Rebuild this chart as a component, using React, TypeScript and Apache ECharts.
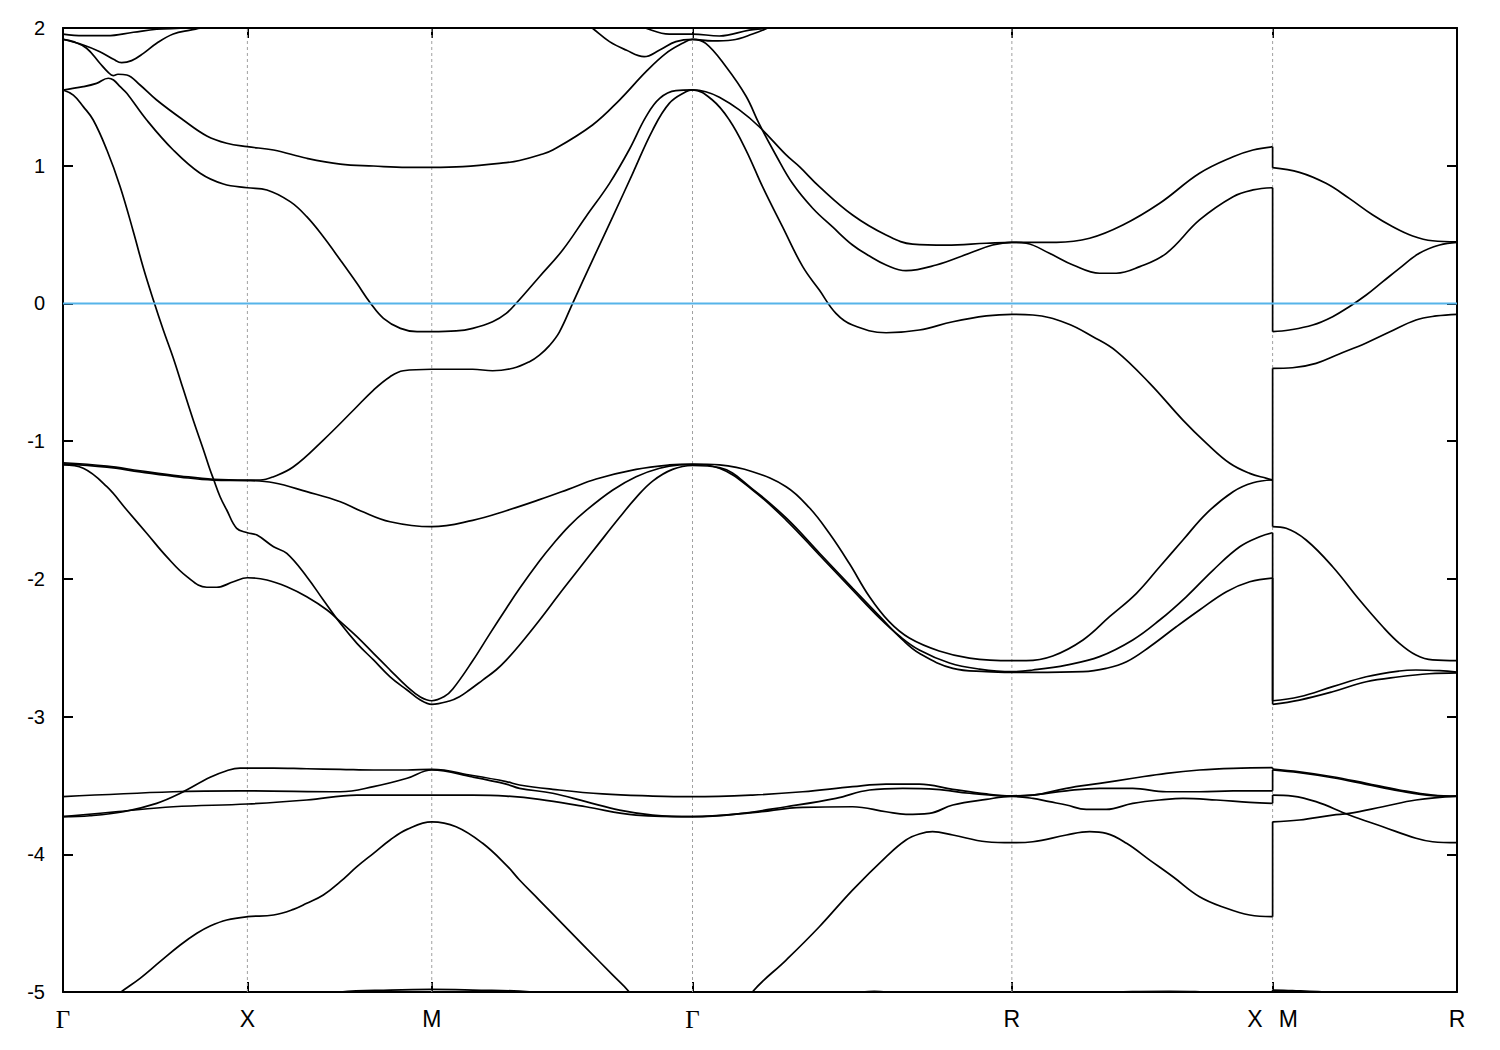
import React, { useEffect, useRef } from 'react';
import * as echarts from 'echarts';

type Pt = [number, number];

// ---- path (k-distance) and high-symmetry points ----
const K_MAX = 3.7802;
const symmetryK = [0, 0.5, 1.0, 1.7071, 2.5731, 3.2802, 3.7802];
const symmetryLabels = ['Γ', 'X', 'M', 'Γ', 'R', 'X|M', 'R'];
const innerSymmetryK = [0.5, 1.0, 1.7071, 2.5731, 3.2802];
const E_MIN = -5;
const E_MAX = 2;
const fermiLevel = 0;

// ---- bands: "Left" runs Γ-X-M-Γ-R-X, "Right" runs M-R ----
const band1Left: Pt[] = [
  [0, 1.918], [0.028, 1.901], [0.064, 1.853], [0.1, 1.744], [0.122, 1.68], [0.136, 1.654], [0.149, 1.664], [0.173, 1.659],
  [0.209, 1.586], [0.254, 1.477], [0.326, 1.332], [0.39, 1.216], [0.444, 1.163], [0.5, 1.138],
  [0.571, 1.114], [0.661, 1.054], [0.752, 1.012], [0.842, 0.998], [0.933, 0.988], [1.0, 0.988],
  [1.084, 0.993], [1.202, 1.022], [1.238, 1.038], [1.292, 1.078], [1.328, 1.114], [1.436, 1.296], [1.509, 1.477],
  [1.581, 1.683], [1.635, 1.816], [1.68, 1.889], [1.7071, 1.918],
  [1.743, 1.889], [1.798, 1.719], [1.852, 1.506], [1.888, 1.303], [1.933, 1.078], [1.978, 0.872], [2.033, 0.691],
  [2.087, 0.555], [2.141, 0.424], [2.187, 0.344], [2.232, 0.279], [2.286, 0.238], [2.368, 0.279], [2.458, 0.364],
  [2.521, 0.424], [2.5731, 0.444],
  [2.63, 0.444], [2.694, 0.444], [2.784, 0.473], [2.874, 0.569], [2.974, 0.727], [3.082, 0.945], [3.173, 1.065],
  [3.227, 1.114], [3.2802, 1.138],
];
const band1Right: Pt[] = [
  [3.2802, 0.986], [3.353, 0.952], [3.425, 0.872], [3.488, 0.763], [3.552, 0.642], [3.606, 0.557], [3.66, 0.49],
  [3.714, 0.455], [3.7802, 0.448],
];

const band2Left: Pt[] = [
  [0, 1.55], [0.055, 1.574], [0.091, 1.598], [0.123, 1.635], [0.137, 1.622], [0.155, 1.574], [0.173, 1.526],
  [0.227, 1.332], [0.299, 1.114], [0.372, 0.945], [0.435, 0.867], [0.5, 0.84],
  [0.553, 0.824], [0.616, 0.739], [0.661, 0.63], [0.706, 0.484], [0.752, 0.315], [0.797, 0.146], [0.833, 0.005],
  [0.869, -0.108], [0.915, -0.181], [0.96, -0.205], [1.0, -0.205],
  [1.066, -0.2], [1.111, -0.181], [1.165, -0.133], [1.202, -0.072], [1.229, 0.001], [1.292, 0.194], [1.355, 0.388],
  [1.418, 0.63], [1.482, 0.872], [1.535, 1.114], [1.581, 1.356], [1.618, 1.489], [1.662, 1.545], [1.7071, 1.55],
  [1.743, 1.537], [1.78, 1.497], [1.834, 1.405], [1.888, 1.283], [1.961, 1.078], [1.997, 0.993], [2.051, 0.848],
  [2.141, 0.642], [2.232, 0.497], [2.304, 0.431], [2.395, 0.424], [2.504, 0.437], [2.5731, 0.444],
  [2.612, 0.437], [2.675, 0.364], [2.739, 0.279], [2.811, 0.219], [2.856, 0.219], [2.92, 0.267], [2.992, 0.364],
  [3.082, 0.606], [3.173, 0.775], [3.227, 0.824], [3.2802, 0.84],
];
const band2Right: Pt[] = [
  [3.2802, -0.205], [3.326, -0.193], [3.389, -0.157], [3.443, -0.096], [3.488, -0.024], [3.534, 0.061],
  [3.579, 0.158], [3.624, 0.255], [3.678, 0.364], [3.733, 0.424], [3.7802, 0.444],
];

const band3Left: Pt[] = [
  [0, -1.157], [0.119, -1.181], [0.209, -1.215], [0.318, -1.253], [0.408, -1.277], [0.5, -1.282],
  [0.535, -1.282], [0.571, -1.258], [0.625, -1.186], [0.706, -0.992], [0.788, -0.774], [0.842, -0.629],
  [0.887, -0.532], [0.923, -0.489], [1.0, -0.478],
  [1.111, -0.478], [1.165, -0.489], [1.22, -0.471], [1.265, -0.423], [1.292, -0.375], [1.319, -0.306],
  [1.346, -0.208], [1.382, 0.001], [1.436, 0.315], [1.491, 0.63], [1.545, 0.945], [1.599, 1.259], [1.644, 1.453],
  [1.689, 1.537], [1.7071, 1.55],
  [1.761, 1.477], [1.807, 1.332], [1.852, 1.114], [1.897, 0.848], [1.951, 0.557], [2.006, 0.267], [2.051, 0.097],
  [2.096, -0.072], [2.141, -0.157], [2.232, -0.213], [2.322, -0.193], [2.413, -0.133], [2.504, -0.091],
  [2.5731, -0.079],
  [2.63, -0.084], [2.721, -0.144], [2.793, -0.242], [2.856, -0.346], [2.947, -0.58], [3.037, -0.847],
  [3.101, -1.016], [3.164, -1.161], [3.218, -1.234], [3.264, -1.27], [3.2802, -1.282],
];
const band3Right: Pt[] = [
  [3.2802, -0.471], [3.334, -0.467], [3.398, -0.435], [3.461, -0.367], [3.534, -0.287], [3.597, -0.208],
  [3.669, -0.12], [3.724, -0.091], [3.7802, -0.079],
];

const band4Left: Pt[] = [
  [0, -1.165], [0.119, -1.189], [0.209, -1.223], [0.318, -1.261], [0.408, -1.283], [0.5, -1.286],
  [0.571, -1.302], [0.661, -1.367], [0.752, -1.44], [0.806, -1.505], [0.887, -1.585], [1.0, -1.621],
  [1.111, -1.575], [1.202, -1.505], [1.292, -1.425], [1.37, -1.35], [1.446, -1.275], [1.554, -1.205],
  [1.644, -1.173], [1.7071, -1.166],
  [1.78, -1.173], [1.87, -1.222], [1.961, -1.331], [2.024, -1.484], [2.078, -1.669], [2.132, -1.887],
  [2.187, -2.13], [2.241, -2.313], [2.295, -2.43], [2.376, -2.524], [2.458, -2.575], [2.5731, -2.594],
  [2.612, -2.594], [2.684, -2.56], [2.766, -2.444], [2.838, -2.275], [2.911, -2.105], [2.974, -1.912],
  [3.037, -1.718], [3.101, -1.524], [3.173, -1.367], [3.227, -1.302], [3.2802, -1.282],
];
const band4Right: Pt[] = [
  [3.2802, -1.621], [3.317, -1.633], [3.371, -1.718], [3.443, -1.912], [3.516, -2.154], [3.579, -2.348],
  [3.624, -2.468], [3.669, -2.553], [3.714, -2.589], [3.7802, -2.594],
];

const band5Left: Pt[] = [
  [0, -1.173], [0.055, -1.197], [0.119, -1.331], [0.173, -1.5], [0.227, -1.669], [0.281, -1.839], [0.336, -1.984],
  [0.39, -2.061], [0.417, -2.061], [0.462, -2.021], [0.5, -1.992],
  [0.553, -2.008], [0.607, -2.057], [0.661, -2.13], [0.716, -2.226], [0.752, -2.311], [0.797, -2.42],
  [0.842, -2.541], [0.887, -2.662], [0.933, -2.783], [0.969, -2.858], [1.0, -2.885],
  [1.034, -2.855], [1.057, -2.8], [1.111, -2.595], [1.156, -2.405], [1.202, -2.215], [1.238, -2.07],
  [1.292, -1.87], [1.328, -1.75], [1.373, -1.615], [1.418, -1.505], [1.491, -1.355], [1.554, -1.258],
  [1.618, -1.197], [1.671, -1.173], [1.7071, -1.17],
  [1.78, -1.197], [1.87, -1.355], [1.961, -1.573], [2.051, -1.827], [2.141, -2.081], [2.214, -2.284],
  [2.268, -2.415], [2.322, -2.517], [2.404, -2.611], [2.485, -2.655], [2.5731, -2.674],
  [2.63, -2.662], [2.721, -2.626], [2.811, -2.565], [2.901, -2.444], [2.974, -2.299], [3.046, -2.13],
  [3.119, -1.936], [3.191, -1.767], [3.245, -1.694], [3.2802, -1.665],
];
const band5Right: Pt[] = [
  [3.2802, -2.885], [3.353, -2.856], [3.443, -2.783], [3.534, -2.711], [3.624, -2.669], [3.669, -2.662],
  [3.733, -2.667], [3.7802, -2.677],
];

const band6Left: Pt[] = [
  [0, 1.55], [0.028, 1.513], [0.055, 1.429], [0.082, 1.332], [0.119, 1.114], [0.155, 0.848], [0.191, 0.519],
  [0.218, 0.257], [0.245, 0.025], [0.272, -0.193], [0.299, -0.396], [0.326, -0.622], [0.354, -0.854],
  [0.381, -1.064], [0.399, -1.21], [0.408, -1.275], [0.426, -1.404], [0.444, -1.5], [0.471, -1.633], [0.5, -1.665],
  [0.526, -1.682], [0.571, -1.767], [0.607, -1.815], [0.661, -1.984], [0.706, -2.154], [0.752, -2.323],
  [0.797, -2.468], [0.842, -2.589], [0.887, -2.711], [0.933, -2.807], [0.969, -2.88], [1.0, -2.911],
  [1.048, -2.887], [1.075, -2.856], [1.102, -2.807], [1.138, -2.735], [1.175, -2.66], [1.202, -2.59],
  [1.238, -2.48], [1.292, -2.3], [1.346, -2.11], [1.4, -1.925], [1.455, -1.737], [1.509, -1.555],
  [1.554, -1.41], [1.599, -1.29], [1.653, -1.205], [1.7071, -1.177],
  [1.78, -1.192], [1.87, -1.348], [1.961, -1.558], [2.051, -1.812], [2.141, -2.067], [2.214, -2.27],
  [2.277, -2.444], [2.322, -2.541], [2.413, -2.65], [2.504, -2.674], [2.5731, -2.679],
  [2.63, -2.679], [2.766, -2.674], [2.829, -2.65], [2.884, -2.602], [2.947, -2.493], [3.019, -2.348],
  [3.082, -2.226], [3.155, -2.093], [3.218, -2.021], [3.2802, -1.994],
];
const band6Right: Pt[] = [
  [3.2802, -2.911], [3.353, -2.88], [3.443, -2.82], [3.534, -2.747], [3.624, -2.711], [3.705, -2.689],
  [3.7802, -2.682],
];

const band7Left: Pt[] = [
  [0, -3.727], [0.073, -3.72], [0.164, -3.691], [0.254, -3.63], [0.318, -3.557], [0.399, -3.441], [0.444, -3.393],
  [0.48, -3.374], [0.5, -3.374], [0.571, -3.374], [0.661, -3.379], [0.752, -3.383], [0.842, -3.388],
  [0.933, -3.388], [1.0, -3.383],
  [1.111, -3.428], [1.202, -3.472], [1.238, -3.497], [1.328, -3.528], [1.463, -3.562], [1.599, -3.577],
  [1.7071, -3.582],
  [1.87, -3.57], [2.006, -3.546], [2.141, -3.509], [2.232, -3.49], [2.322, -3.49], [2.413, -3.528],
  [2.504, -3.562], [2.5731, -3.575],
  [2.63, -3.57], [2.721, -3.521], [2.811, -3.485], [2.901, -3.448], [2.992, -3.412], [3.082, -3.388],
  [3.173, -3.376], [3.2802, -3.371],
];
const band7Right: Pt[] = [
  [3.2802, -3.381], [3.353, -3.401], [3.443, -3.437], [3.534, -3.485], [3.624, -3.533], [3.714, -3.57],
  [3.7802, -3.577],
];

const band8Left: Pt[] = [
  [0, -3.582], [0.299, -3.546], [0.48, -3.539], [0.5, -3.539], [0.752, -3.546], [0.842, -3.509], [0.933, -3.448],
  [1.0, -3.388],
  [1.111, -3.439], [1.202, -3.49], [1.238, -3.521], [1.328, -3.557], [1.418, -3.618], [1.509, -3.679],
  [1.599, -3.715], [1.7071, -3.727],
  [1.825, -3.708], [1.961, -3.655], [2.096, -3.594], [2.187, -3.533], [2.277, -3.521], [2.368, -3.528],
  [2.458, -3.557], [2.5731, -3.577],
  [2.63, -3.57], [2.721, -3.539], [2.811, -3.521], [2.901, -3.521], [2.992, -3.546], [3.082, -3.546],
  [3.173, -3.539], [3.2802, -3.539],
];
const band8Right: Pt[] = [
  [3.2802, -3.388], [3.353, -3.408], [3.443, -3.444], [3.534, -3.492], [3.624, -3.54], [3.714, -3.574],
  [3.7802, -3.579],
];

const band9Left: Pt[] = [
  [0, -3.727], [0.15, -3.69], [0.299, -3.655], [0.5, -3.635], [0.661, -3.606], [0.797, -3.57], [1.0, -3.57],
  [1.111, -3.57], [1.202, -3.577], [1.292, -3.601], [1.418, -3.655], [1.554, -3.715], [1.7071, -3.727],
  [1.87, -3.698], [2.006, -3.659], [2.141, -3.655], [2.232, -3.691], [2.286, -3.71], [2.349, -3.703],
  [2.413, -3.642], [2.504, -3.601], [2.5731, -3.58],
  [2.63, -3.594], [2.675, -3.618], [2.721, -3.642], [2.775, -3.674], [2.829, -3.674], [2.901, -3.63],
  [2.992, -3.601], [3.037, -3.594], [3.128, -3.606], [3.218, -3.623], [3.2802, -3.63],
];
const band9Right: Pt[] = [
  [3.2802, -3.57], [3.334, -3.577], [3.398, -3.618], [3.488, -3.715], [3.579, -3.8], [3.669, -3.884],
  [3.714, -3.909], [3.7802, -3.916],
];

const band10Left: Pt[] = [
  [0, -5.25], [0.08, -5.17], [0.155, -5.005], [0.209, -4.901], [0.263, -4.78], [0.318, -4.659], [0.363, -4.574],
  [0.399, -4.521], [0.444, -4.477], [0.5, -4.453],
  [0.571, -4.441], [0.625, -4.4], [0.661, -4.356], [0.706, -4.296], [0.752, -4.199], [0.797, -4.09],
  [0.842, -3.993], [0.887, -3.896], [0.933, -3.819], [1.0, -3.764],
  [1.066, -3.8], [1.138, -3.92], [1.202, -4.078], [1.238, -4.187], [1.292, -4.334], [1.328, -4.433],
  [1.418, -4.679], [1.491, -4.878], [1.535, -4.998], [1.62, -5.3], [1.7071, -5.45],
  [1.79, -5.3], [1.87, -4.998], [1.961, -4.768], [2.051, -4.526], [2.141, -4.26], [2.232, -4.018],
  [2.286, -3.896], [2.322, -3.853], [2.358, -3.836], [2.413, -3.86], [2.504, -3.909], [2.5731, -3.916],
  [2.63, -3.909], [2.721, -3.86], [2.784, -3.836], [2.829, -3.848], [2.884, -3.92], [2.947, -4.042],
  [3.01, -4.163], [3.082, -4.308], [3.155, -4.392], [3.218, -4.441], [3.2802, -4.453],
];
const band10Right: Pt[] = [
  [3.2802, -3.764], [3.353, -3.751], [3.443, -3.715], [3.488, -3.703], [3.579, -3.655], [3.669, -3.606],
  [3.7802, -3.577],
];

const band11Left: Pt[] = [
  [0, -5.3], [0.25, -5.15], [0.5, -5.08], [0.752, -5.0], [0.887, -4.986], [1.0, -4.981], [1.111, -4.986],
  [1.265, -4.998], [1.45, -5.06], [1.7071, -5.12], [1.95, -5.05], [2.15, -5.005], [2.2, -4.996], [2.25, -5.005],
  [2.4, -5.04], [2.5731, -5.06], [2.75, -5.02], [2.9, -4.997], [3.0, -4.995], [3.07, -4.997], [3.18, -5.02],
  [3.2802, -5.03],
];
const band11Right: Pt[] = [
  [3.2802, -4.986], [3.334, -4.99], [3.443, -5.005], [3.6, -5.04], [3.7802, -5.06],
];

// ---- band pieces near the top of the window ----
const topA: Pt[] = [
  [0, 1.956], [0.055, 1.944], [0.119, 1.944], [0.191, 1.969], [0.254, 1.991], [0.318, 1.998], [0.372, 2.005],
  [0.45, 2.05],
];
const topB: Pt[] = [
  [0, 1.918], [0.055, 1.877], [0.1, 1.828], [0.137, 1.773], [0.159, 1.748], [0.186, 1.763], [0.218, 1.816],
  [0.254, 1.889], [0.299, 1.956], [0.345, 1.985], [0.372, 1.998], [0.45, 2.04],
];
const topC: Pt[] = [
  [1.346, 2.19], [1.436, 1.998], [1.482, 1.901], [1.527, 1.84], [1.576, 1.792], [1.618, 1.84], [1.662, 1.901],
  [1.7071, 1.918], [1.761, 1.906], [1.815, 1.913], [1.87, 1.956], [1.915, 2.005], [1.95, 2.06],
];
const topD: Pt[] = [
  [1.52, 2.06], [1.581, 1.998], [1.644, 1.956], [1.7071, 1.956], [1.78, 1.942], [1.861, 1.985], [1.915, 2.005],
  [1.96, 2.06],
];

const bands: { left: Pt[]; right: Pt[] }[] = [
  { left: band1Left, right: band1Right },
  { left: band2Left, right: band2Right },
  { left: band3Left, right: band3Right },
  { left: band4Left, right: band4Right },
  { left: band5Left, right: band5Right },
  { left: band6Left, right: band6Right },
  { left: band7Left, right: band7Right },
  { left: band8Left, right: band8Right },
  { left: band9Left, right: band9Right },
  { left: band10Left, right: band10Right },
  { left: band11Left, right: band11Right },
];
const topPieces: Pt[][] = [topA, topB, topC, topD];

const FONT = "'Liberation Sans', Arial, Helvetica, sans-serif";
const SERIF = "'Liberation Serif', 'DejaVu Serif', 'Times New Roman', serif";

function lineSeries(data: Pt[], smooth: number | boolean, color = '#000000', width = 1.7, z = 3, type: any = 'solid') {
  return {
    type: 'line',
    data,
    xAxisIndex: 0,
    yAxisIndex: 0,
    symbol: 'none',
    showSymbol: false,
    smooth,
    clip: true,
    silent: true,
    animation: false,
    emphasis: { disabled: true },
    lineStyle: { color, width, type },
    z,
  };
}

function buildOption() {
  const series: any[] = [];
  // high-symmetry guide lines
  innerSymmetryK.forEach((k) => {
    series.push(lineSeries([[k, E_MIN], [k, E_MAX]], false, '#a0a0a0', 1, 1, [3, 3]));
  });
  bands.forEach((b) => {
    series.push(lineSeries(b.left, 0.4));
    series.push(lineSeries(b.right, 0.4));
    const kx = b.left[b.left.length - 1][0];
    series.push(lineSeries([[kx, b.left[b.left.length - 1][1]], [kx, b.right[0][1]]], false));
  });
  topPieces.forEach((p) => series.push(lineSeries(p, 0.4)));
  series.push(lineSeries([[0, fermiLevel], [K_MAX, fermiLevel]], false, '#56b4e9', 2, 4));

  const labelFormatter = (v: number) => {
    const i = symmetryK.findIndex((k) => Math.abs(k - v) < 1e-3);
    const s = i >= 0 ? symmetryLabels[i] : '';
    if (s === 'Γ') return '{g|Γ}';
    if (s === 'X|M') return '{a|X}{b|M}';
    return s;
  };

  const axisLineStyle = { color: '#000000', width: 2 };

  return {
    animation: false,
    backgroundColor: '#ffffff',
    grid: { left: 63, top: 28, width: 1394, height: 964, containLabel: false, outerBoundsMode: 'none' },
    xAxis: [
      {
        type: 'value',
        position: 'bottom',
        min: 0,
        max: K_MAX,
        axisLine: { show: true, onZero: false, lineStyle: axisLineStyle },
        axisTick: { show: true, inside: true, length: 10, customValues: innerSymmetryK, lineStyle: axisLineStyle },
        axisLabel: {
          show: true,
          customValues: symmetryK,
          showMinLabel: true,
          showMaxLabel: true,
          hideOverlap: false,
          formatter: labelFormatter,
          margin: 15,
          color: '#000000',
          fontSize: 23,
          fontFamily: FONT,
          rich: {
            g: { fontFamily: SERIF, fontSize: 25, color: '#000000' },
            a: { fontFamily: FONT, fontSize: 23, color: '#000000', padding: [0, 8, 0, 0] },
            b: { fontFamily: FONT, fontSize: 23, color: '#000000', padding: [0, 0, 0, 8] },
          },
        },
        splitLine: { show: false },
      },
      {
        type: 'value',
        position: 'top',
        min: 0,
        max: K_MAX,
        axisLine: { show: true, onZero: false, lineStyle: axisLineStyle },
        axisTick: { show: true, inside: true, length: 10, customValues: innerSymmetryK, lineStyle: axisLineStyle },
        axisLabel: { show: false },
        splitLine: { show: false },
      },
    ],
    yAxis: [
      {
        type: 'value',
        position: 'left',
        min: E_MIN,
        max: E_MAX,
        interval: 1,
        axisLine: { show: true, onZero: false, lineStyle: axisLineStyle },
        axisTick: { show: true, inside: true, length: 10, lineStyle: axisLineStyle },
        axisLabel: { show: true, margin: 18, color: '#000000', fontSize: 20, fontFamily: FONT },
        splitLine: { show: false },
      },
      {
        type: 'value',
        position: 'right',
        min: E_MIN,
        max: E_MAX,
        interval: 1,
        axisLine: { show: true, onZero: false, lineStyle: axisLineStyle },
        axisTick: { show: true, inside: true, length: 10, lineStyle: axisLineStyle },
        axisLabel: { show: false },
        splitLine: { show: false },
      },
    ],
    series,
  };
}

export default function App() {
  const ref = useRef<HTMLDivElement>(null);
  useEffect(() => {
    if (!ref.current) return;
    const chart = echarts.init(ref.current, undefined, { renderer: 'svg' });
    chart.setOption(buildOption() as any);
    return () => chart.dispose();
  }, []);
  return (
    <div
      ref={ref}
      style={{ position: 'absolute', left: 0, top: 0, width: 1500, height: 1050, background: '#ffffff' }}
    />
  );
}
